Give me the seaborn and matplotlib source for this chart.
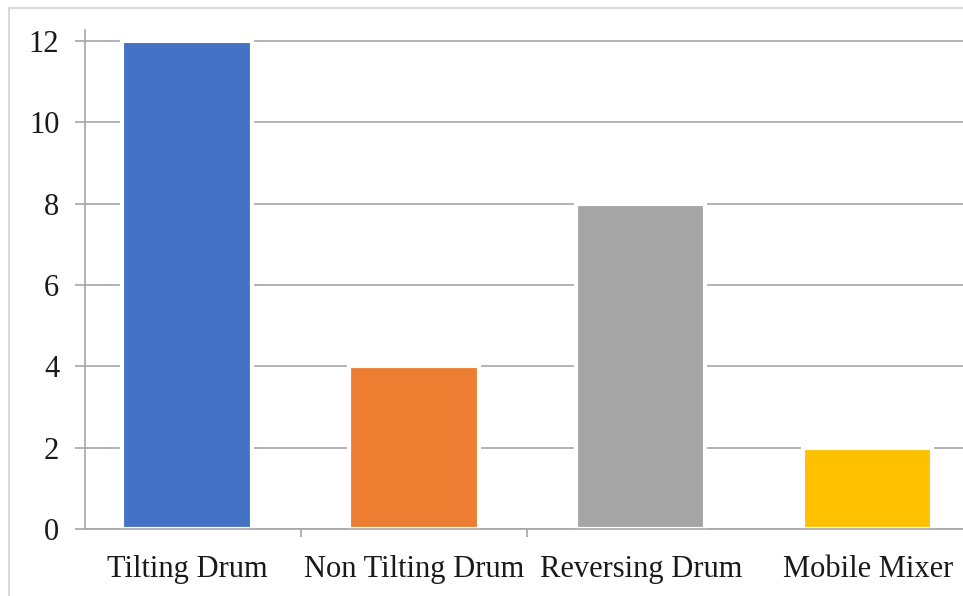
import matplotlib
matplotlib.use("Agg")
import matplotlib.pyplot as plt
from matplotlib.lines import Line2D
import seaborn as sns
import pandas as pd

categories = ["Tilting Drum", "Non Tilting Drum", "Reversing Drum", "Mobile Mixer"]
values = [12, 4, 8, 2]
colors = ["#4472C4", "#ED7D31", "#A5A5A5", "#FFC000"]
y_ticks = [0, 2, 4, 6, 8, 10, 12]

df = pd.DataFrame({"mixer": categories, "count": values})

sns.set_theme(style="white")
plt.rcParams["font.family"] = ["Liberation Serif", "DejaVu Serif"]

fig = plt.figure(figsize=(9.63, 5.96), dpi=100)
ax = fig.add_axes([85 / 963, 67 / 596, 1 - 85 / 963, 499 / 596])

grid_color = "#A6A6A6"
for y in y_ticks:
    ax.axhline(y, color=grid_color, lw=1.2, zorder=0)

sns.barplot(data=df, x="mixer", y="count", hue="mixer", palette=colors,
            legend=False, width=0.57, edgecolor="white", linewidth=3,
            saturation=1, ax=ax, zorder=2)

ax.set_xlim(-0.45, 3.42)
ax.set_ylim(0, 12.27)
ax.set_yticks(y_ticks)
ax.set_yticklabels([str(v) for v in y_ticks])
ax.set_xlabel("")
ax.set_ylabel("")

for side in ["top", "right"]:
    ax.spines[side].set_visible(False)
for side in ["left", "bottom"]:
    ax.spines[side].set_color(grid_color)
    ax.spines[side].set_linewidth(1.2)

ax.tick_params(axis="y", which="major", length=7.5, width=1.2, color=grid_color,
               pad=11, labelsize=22, labelcolor="#1a1a1a", left=True, direction="out")
ax.tick_params(axis="x", which="major", length=0, pad=19, labelsize=22,
               labelcolor="#1a1a1a")
ax.set_xticks([0.5, 1.5], minor=True)
ax.tick_params(axis="x", which="minor", length=6, width=1.2, color=grid_color,
               bottom=True, direction="out")

# light frame along the top and left edges of the figure
fig.add_artist(Line2D([9 / 963, 1], [1 - 8 / 596, 1 - 8 / 596], color="#D9D9D9",
                      lw=1.5, transform=fig.transFigure))
fig.add_artist(Line2D([9 / 963, 9 / 963], [0, 1 - 8 / 596], color="#D9D9D9",
                      lw=1.5, transform=fig.transFigure))

fig.savefig("out.png", dpi=100, facecolor="white")
